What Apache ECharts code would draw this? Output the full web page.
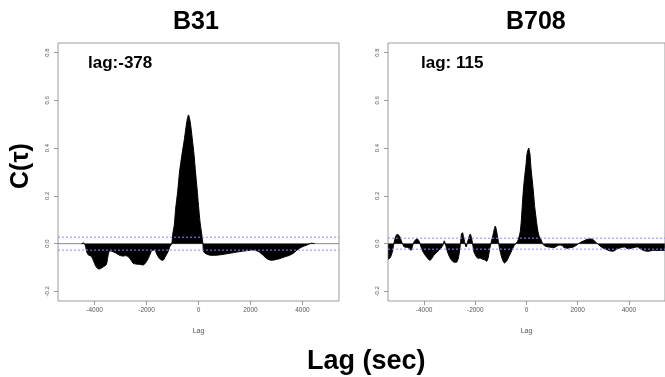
<!DOCTYPE html>
<html><head><meta charset="utf-8">
<script src="https://cdn.jsdelivr.net/npm/echarts@6/dist/echarts.min.js"></script>
<style>html,body{margin:0;padding:0;background:#fff}#c{width:665px;height:377px}</style>
</head><body><div id="c"></div>
<script>
var panelTitles = ['B31', 'B708'];
var lagLabels = ['lag:-378', 'lag: 115'];
var xTicks = [-4000, -2000, 0, 2000, 4000];
var yTicks = [-0.2, 0.0, 0.2, 0.4, 0.6, 0.8];
var lagExtent = [-5408, 5408];
var ciB31 = 0.027;
var ciB708 = 0.023;

var b31Lag = [-4500,-4420,-4350,-4300,-4230,-4130,-4050,-3950,-3850,-3780,-3650,-3550,-3490,-3420,-3330,-3200,-3100,-3000,-2900,-2800,-2700,-2590,-2520,-2420,-2330,-2200,-2120,-2080,-2000,-1950,-1880,-1790,-1690,-1600,-1500,-1430,-1370,-1280,-1180,-1100,-1030,-990,-930,-885,-800,-730,-640,-540,-450,-385,-320,-240,-170,-115,-55,0,60,130,170,190,250,400,550,800,1000,1320,1600,1800,1960,2100,2250,2350,2500,2620,2730,2850,3000,3115,3300,3500,3650,3780,3880,4000,4140,4250,4350,4420,4480];
var b31Val = [0,0.003,-0.01,-0.035,-0.048,-0.052,-0.07,-0.095,-0.106,-0.105,-0.096,-0.088,-0.056,-0.03,-0.032,-0.038,-0.045,-0.05,-0.052,-0.05,-0.055,-0.07,-0.082,-0.085,-0.086,-0.088,-0.089,-0.086,-0.075,-0.065,-0.049,-0.028,-0.027,-0.045,-0.063,-0.068,-0.07,-0.055,-0.035,-0.012,0.0,0.04,0.08,0.14,0.22,0.3,0.37,0.44,0.51,0.539,0.51,0.44,0.37,0.3,0.23,0.16,0.09,0.035,0.0,-0.03,-0.04,-0.047,-0.049,-0.047,-0.044,-0.038,-0.033,-0.03,-0.028,-0.026,-0.03,-0.036,-0.05,-0.062,-0.068,-0.069,-0.066,-0.063,-0.056,-0.049,-0.04,-0.028,-0.02,-0.013,-0.007,-0.002,0.002,0.001,0];

var b708Lag = [-5400,-5330,-5280,-5230,-5180,-5110,-5050,-4960,-4870,-4770,-4640,-4560,-4510,-4450,-4410,-4340,-4280,-4190,-4130,-4070,-3980,-3900,-3770,-3700,-3620,-3490,-3330,-3260,-3210,-3170,-3120,-3080,-3020,-2970,-2900,-2850,-2770,-2720,-2660,-2620,-2580,-2540,-2500,-2460,-2420,-2360,-2300,-2240,-2200,-2140,-2090,-2050,-1950,-1880,-1820,-1760,-1690,-1620,-1560,-1500,-1435,-1370,-1310,-1260,-1220,-1180,-1140,-1090,-1050,-960,-860,-760,-665,-570,-475,-400,-345,-300,-245,-200,-155,-110,-65,-20,15,50,90,115,140,165,220,270,315,360,400,450,500,550,600,654,730,810,950,1065,1190,1260,1320,1385,1450,1575,1700,1830,1930,2025,2120,2220,2320,2410,2500,2575,2650,2730,2820,2920,3020,3115,3250,3370,3470,3565,3700,3820,3900,3950,4050,4140,4250,4335,4420,4500,4620,4720,4850,4970,5100,5230,5400];
var b708Val = [-0.065,-0.06,-0.049,-0.03,0,0.03,0.039,0.032,0.007,-0.014,-0.016,-0.022,-0.028,-0.01,0.004,0.015,0.021,0.01,-0.01,-0.028,-0.045,-0.056,-0.07,-0.062,-0.049,-0.035,-0.018,-0.005,0.012,0,-0.02,-0.035,-0.052,-0.063,-0.072,-0.077,-0.078,-0.077,-0.06,-0.035,0,0.04,0.046,0.03,0.01,-0.014,0.007,0.03,0.04,0.021,-0.01,-0.035,-0.056,-0.062,-0.06,-0.063,-0.066,-0.068,-0.074,-0.06,-0.021,0.01,0.035,0.06,0.074,0.06,0.035,0.005,-0.021,-0.06,-0.081,-0.07,-0.049,-0.028,-0.007,0.003,0.01,0.025,0.049,0.1,0.175,0.24,0.287,0.33,0.371,0.39,0.4,0.401,0.37,0.329,0.27,0.217,0.16,0.119,0.085,0.049,0.03,0.021,0.008,-0.004,-0.01,-0.013,-0.015,-0.017,-0.01,-0.007,-0.006,-0.008,-0.015,-0.019,-0.017,-0.014,-0.008,0,0.006,0.011,0.016,0.019,0.02,0.018,0.012,0.004,-0.005,-0.014,-0.02,-0.024,-0.03,-0.032,-0.027,-0.021,-0.016,-0.014,-0.018,-0.021,-0.02,-0.018,-0.015,-0.014,-0.02,-0.025,-0.03,-0.032,-0.03,-0.028,-0.029,-0.028,-0.028];

function pairs(xs, ys){ return xs.map(function(x,i){ return [x, ys[i]]; }); }
function hline(i, v, color, type, z){
  return {type:'line', xAxisIndex:i, yAxisIndex:i, data:[[lagExtent[0], v],[lagExtent[1], v]],
    showSymbol:false, silent:true, z:z, lineStyle:{color:color, width:1, type:type}};
}

var chart = echarts.init(document.getElementById('c'), null, {renderer:'canvas'});
var grids = [
  {left:58, top:43, width:281, height:258, show:true, borderColor:'#9a9a9a', borderWidth:1},
  {left:388, top:43, width:281, height:258, show:true, borderColor:'#9a9a9a', borderWidth:1}
];
function xAx(i){
  return {type:'value', gridIndex:i, min:lagExtent[0], max:lagExtent[1], name:'Lag', nameLocation:'middle', nameGap:27,
    nameTextStyle:{fontSize:7, color:'#555', fontFamily:'Liberation Sans'},
    axisLine:{show:false, onZero:false}, splitLine:{show:false},
    axisTick:{show:true, length:4, lineStyle:{color:'#999'}, customValues:xTicks},
    axisLabel:{fontSize:6.5, color:'#555', margin:6, fontFamily:'Liberation Sans', customValues:xTicks,
      formatter:function(v){ return String(v); }}};
}
function yAx(i){
  return {type:'value', gridIndex:i, min:-0.24, max:0.84,
    axisLine:{show:false, onZero:false}, splitLine:{show:false},
    axisTick:{show:true, length:4, lineStyle:{color:'#999'}, customValues:yTicks},
    axisLabel:{fontSize:6, color:'#555', rotate:90, margin:8, fontFamily:'Liberation Sans', customValues:yTicks,
      formatter:function(v){ return v.toFixed(1); }}};
}
function ser(i, data){
  return {type:'line', xAxisIndex:i, yAxisIndex:i, data:data, showSymbol:false, smooth:0.25, z:2,
    lineStyle:{color:'#000', width:1}, areaStyle:{color:'#000', opacity:1, origin:0}, silent:true};
}
var bold = 'bold 25px "Liberation Sans", Arial, sans-serif';
chart.setOption({
  animation:false,
  grid:grids,
  xAxis:[xAx(0), xAx(1)],
  yAxis:[yAx(0), yAx(1)],
  series:[
    hline(0, 0, '#888', 'solid', 1), hline(1, 0, '#888', 'solid', 1),
    ser(0, pairs(b31Lag,b31Val)), ser(1, pairs(b708Lag,b708Val)),
    hline(0, ciB31, '#8a8aff', [2,2], 3), hline(0, -ciB31, '#8a8aff', [2,2], 3),
    hline(1, ciB708, '#8a8aff', [2,2], 3), hline(1, -ciB708, '#8a8aff', [2,2], 3)
  ],
  graphic:[
    {type:'text', left:173, top:10, style:{text:panelTitles[0], font:bold, fill:'#000'}},
    {type:'text', left:506, top:10, style:{text:panelTitles[1], font:bold, fill:'#000'}},
    {type:'text', left:88, top:55, style:{text:lagLabels[0], font:'bold 17px "Liberation Sans", Arial, sans-serif', fill:'#000'}},
    {type:'text', left:421, top:55, style:{text:lagLabels[1], font:'bold 17px "Liberation Sans", Arial, sans-serif', fill:'#000'}},
    {type:'text', x:21, y:166, rotation:Math.PI/2, style:{text:'C(τ)', font:bold, fill:'#000', align:'center', verticalAlign:'middle'}},
    {type:'text', left:307, top:348, style:{text:'Lag (sec)', font:'bold 27px "Liberation Sans", Arial, sans-serif', fill:'#000'}}
  ]
});
</script></body></html>
